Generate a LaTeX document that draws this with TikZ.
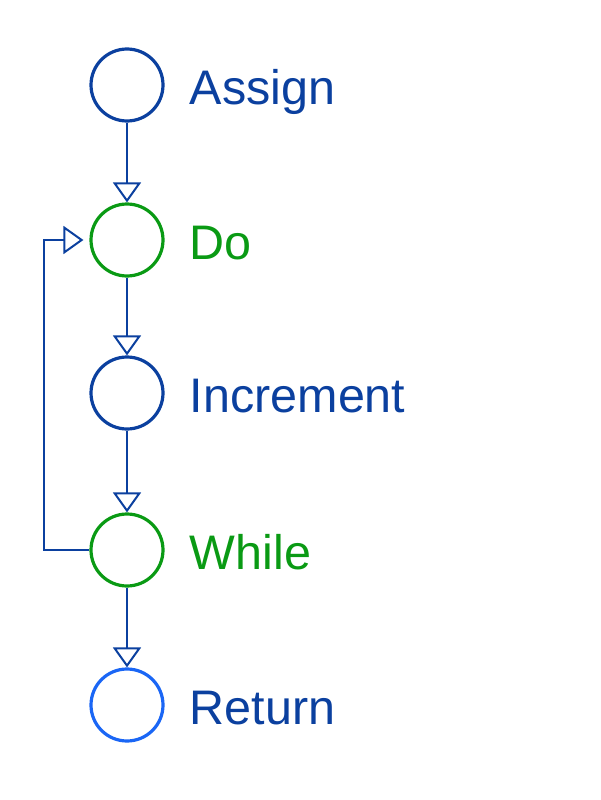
\documentclass[tikz,border=0pt]{standalone}
\usepackage{fontspec}
\setmainfont{Liberation Sans}
\usetikzlibrary{arrows.meta}
\usetikzlibrary{positioning}

\definecolor{stepblue}{HTML}{0B409F}
\definecolor{stepgreen}{HTML}{0A9A14}
\definecolor{retblue}{HTML}{1A66F5}

\begin{document}
\begin{tikzpicture}[x=1pt,y=-1pt,
    sketch/.style={preaction={draw,line width=1.2pt,opacity=0.5,shift={(1.5pt,1.2pt)}}},
    stepnode/.style={circle,draw=#1,sketch,minimum size=72pt,inner sep=0pt,line width=3.2pt},
    steplabel/.style={right=25pt of #1,inner sep=0pt,text height=35pt,text depth=0pt,yshift=-2pt,
        font=\fontsize{48.5}{58}\selectfont},
    flow/.style={draw=stepblue,line width=2.4pt,-{Triangle[open,length=20pt,width=28pt,line width=2pt]}}]
        \useasboundingbox (0,0) rectangle (600,800);

        % Define the horizontal position of the steps
        \def\cx{127}

        % Draw the step circles
        \node[stepnode=stepblue]  (assign)    at (\cx, 85) {};
        \node[stepnode=stepgreen] (do)        at (\cx, 240) {};
        \node[stepnode=stepblue]  (increment) at (\cx, 393) {};
        \node[stepnode=stepgreen] (while)     at (\cx, 550) {};
        \node[stepnode=retblue]   (return)    at (\cx, 705) {};

        % Draw the labels
        \node[steplabel=assign,text=stepblue]     (assignlabel)    {Assign};
        \node[steplabel=do,text=stepgreen]        (dolabel)        {Do};
        \node[steplabel=increment,text=stepblue]  (incrementlabel) {Increment};
        \node[steplabel=while,text=stepgreen]     (whilelabel)     {While};
        \node[steplabel=return,text=stepblue]     (returnlabel)    {Return};

        % Draw the flow arrows
        \draw[flow] (assign) -- (do);
        \draw[flow] (do) -- (increment);
        \draw[flow] (increment) -- (while);
        \draw[flow] (while) -- (return);

        % Draw the loop back
        \coordinate (loopcorner) at (44, 550);
        \draw[flow,shorten >=6pt] (while.west) -- (loopcorner) |- (do.west);
\end{tikzpicture}
\end{document}
